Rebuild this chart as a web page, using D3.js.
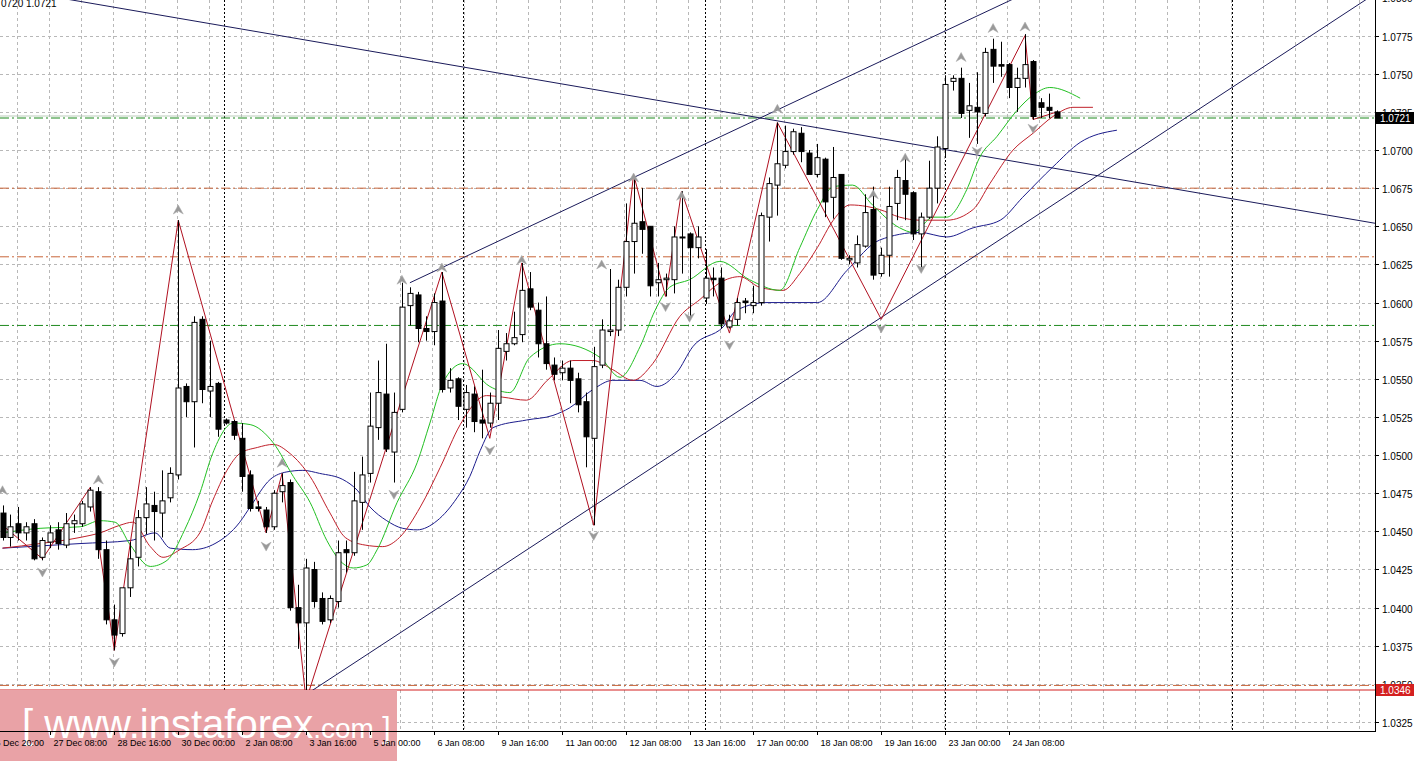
<!DOCTYPE html>
<html>
<head>
<meta charset="utf-8">
<script src="https://cdn.jsdelivr.net/npm/d3@7"></script>
<style>
  body { margin: 0; background: #fff; }
  text { font-family: "Liberation Sans", "DejaVu Sans", sans-serif; }
</style>
</head>
<body>
<svg id="chart" width="1419" height="761"></svg>
<script>
// candles: [open, high, low, close]
const candles = [
  [1.0462,1.0467,1.0444,1.0446],[1.0446,1.0461,1.0440,1.0453],[1.0455,1.0466,1.0444,1.0449],[1.0449,1.0456,1.0444,1.0453],
  [1.0455,1.0458,1.0431,1.0432],[1.0433,1.0446,1.0431,1.0444],[1.0443,1.0454,1.0439,1.0449],[1.0451,1.0456,1.0438,1.0442],
  [1.0441,1.0462,1.0439,1.0455],[1.0455,1.0461,1.0449,1.0457],[1.0455,1.0470,1.0453,1.0468],[1.0466,1.0479,1.0463,1.0477],
  [1.0476,1.0479,1.0432,1.0438],[1.0438,1.0444,1.0389,1.0392],[1.0392,1.0402,1.0372,1.0382],[1.0383,1.0411,1.0381,1.0413],
  [1.0413,1.0443,1.0407,1.0432],[1.0433,1.0464,1.0427,1.0459],[1.0459,1.0479,1.0448,1.0468],[1.0467,1.0476,1.0444,1.0463],
  [1.0462,1.0490,1.0446,1.0470],[1.0472,1.0492,1.0469,1.0488],[1.0487,1.0654,1.0484,1.0544],[1.0545,1.0547,1.0525,1.0535],
  [1.0535,1.0591,1.0505,1.0587],[1.0589,1.0591,1.0534,1.0543],[1.0542,1.0575,1.0525,1.0545],[1.0547,1.0548,1.0512,1.0517],
  [1.0523,1.0524,1.0520,1.0521],[1.0522,1.0523,1.0510,1.0513],[1.0511,1.0521,1.0476,1.0486],[1.0487,1.0490,1.0463,1.0465],
  [1.0466,1.0470,1.0463,1.0465],[1.0464,1.0466,1.0449,1.0453],[1.0453,1.0477,1.0451,1.0475],[1.0476,1.0488,1.0469,1.0480],
  [1.0482,1.0484,1.0398,1.0400],[1.0400,1.0415,1.0373,1.0390],[1.0390,1.0432,1.0342,1.0426],[1.0425,1.0430,1.0400,1.0404],
  [1.0406,1.0410,1.0389,1.0391],[1.0392,1.0408,1.0390,1.0406],[1.0404,1.0444,1.0400,1.0436],[1.0438,1.0444,1.0423,1.0436],
  [1.0436,1.0489,1.0434,1.0470],[1.0469,1.0499,1.0451,1.0487],[1.0488,1.0541,1.0482,1.0519],[1.0518,1.0562,1.0510,1.0541],
  [1.0540,1.0573,1.0502,1.0504],[1.0502,1.0541,1.0482,1.0528],[1.0530,1.0613,1.0528,1.0597],[1.0598,1.0610,1.0585,1.0606],
  [1.0605,1.0607,1.0574,1.0583],[1.0583,1.0591,1.0575,1.0581],[1.0581,1.0606,1.0572,1.0600],[1.0601,1.0620,1.0541,1.0543],
  [1.0544,1.0557,1.0541,1.0549],[1.0550,1.0551,1.0523,1.0532],[1.0530,1.0546,1.0518,1.0541],[1.0540,1.0545,1.0515,1.0522],
  [1.0523,1.0556,1.0511,1.0521],[1.0521,1.0541,1.0518,1.0534],[1.0534,1.0582,1.0523,1.0570],[1.0568,1.0580,1.0562,1.0573],
  [1.0573,1.0594,1.0572,1.0577],[1.0579,1.0626,1.0574,1.0608],[1.0609,1.0620,1.0595,1.0597],[1.0595,1.0600,1.0564,1.0573],
  [1.0573,1.0604,1.0556,1.0560],[1.0559,1.0564,1.0549,1.0553],[1.0554,1.0562,1.0549,1.0557],[1.0557,1.0562,1.0534,1.0549],
  [1.0550,1.0554,1.0528,1.0533],[1.0535,1.0541,1.0492,1.0512],[1.0511,1.0571,1.0454,1.0558],[1.0559,1.0589,1.0557,1.0582],
  [1.0581,1.0622,1.0578,1.0582],[1.0582,1.0615,1.0578,1.0610],[1.0610,1.0665,1.0604,1.0640],[1.0640,1.0683,1.0619,1.0652],
  [1.0653,1.0675,1.0632,1.0648],[1.0650,1.0650,1.0604,1.0611],[1.0613,1.0626,1.0604,1.0615],[1.0615,1.0619,1.0604,1.0616],
  [1.0615,1.0650,1.0606,1.0643],[1.0643,1.0673,1.0619,1.0643],[1.0645,1.0646,1.0589,1.0636],[1.0636,1.0650,1.0629,1.0643],
  [1.0603,1.0635,1.0599,1.0616],[1.0616,1.0623,1.0604,1.0615],[1.0616,1.0623,1.0583,1.0586],[1.0584,1.0592,1.0583,1.0588],
  [1.0589,1.0603,1.0585,1.0600],[1.0601,1.0603,1.0593,1.0600],[1.0598,1.0611,1.0593,1.0600],[1.0600,1.0659,1.0598,1.0657],
  [1.0656,1.0682,1.0640,1.0678],[1.0677,1.0718,1.0657,1.0691],[1.0690,1.0716,1.0688,1.0699],[1.0699,1.0714,1.0697,1.0712],
  [1.0711,1.0715,1.0692,1.0699],[1.0698,1.0700,1.0686,1.0684],[1.0684,1.0704,1.0682,1.0695],[1.0694,1.0695,1.0656,1.0666],
  [1.0669,1.0702,1.0655,1.0682],[1.0684,1.0684,1.0628,1.0629],[1.0628,1.0631,1.0625,1.0629],[1.0626,1.0644,1.0623,1.0638],
  [1.0637,1.0671,1.0636,1.0659],[1.0661,1.0676,1.0615,1.0618],[1.0619,1.0636,1.0617,1.0631],[1.0631,1.0676,1.0617,1.0663],
  [1.0665,1.0687,1.0654,1.0682],[1.0680,1.0695,1.0654,1.0671],[1.0672,1.0673,1.0641,1.0645],[1.0645,1.0659,1.0623,1.0656],
  [1.0656,1.0693,1.0655,1.0675],[1.0675,1.0709,1.0665,1.0702],[1.0701,1.0749,1.0695,1.0743],[1.0745,1.0749,1.0739,1.0747],
  [1.0747,1.0754,1.0721,1.0724],[1.0726,1.0744,1.0708,1.0729],[1.0728,1.0751,1.0704,1.0725],[1.0724,1.0767,1.0722,1.0764],
  [1.0766,1.0773,1.0744,1.0755],[1.0756,1.0771,1.0748,1.0755],[1.0756,1.0757,1.0734,1.0741],[1.0741,1.0754,1.0725,1.0747],
  [1.0747,1.0776,1.0741,1.0756],[1.0758,1.0759,1.0720,1.0722],[1.0731,1.0734,1.0721,1.0728],[1.0728,1.0737,1.0721,1.0726],
  [1.0725,1.0726,1.0721,1.0721]
];

// moving averages, read as [bar, price]
const maGreen = [[0,1.0449],[4.7,1.0452],[9.7,1.0453],[12.2,1.0457],[14.1,1.0456],[16,1.0441],[18.5,1.0427],[20.6,1.0431],
  [22.8,1.0451],[24.7,1.0475],[26.3,1.0501],[28.9,1.0521],[31,1.0520],[33.9,1.0508],[36.4,1.0486],[38.5,1.0469],[40.6,1.0444],
  [42.6,1.0429],[43.9,1.0426],[45.6,1.0428],[46.9,1.0438],[49.4,1.0469],[51.9,1.0495],[53.5,1.0521],[55.1,1.0547],[57.6,1.0560],
  [61,1.0545],[63.5,1.0541],[66,1.0564],[69.8,1.0573],[74.8,1.0564],[77.3,1.0551],[79.8,1.0571],[81.7,1.0595],[83.5,1.0610],
  [86,1.0615],[89.8,1.0627],[93.5,1.0615],[97.3,1.0608],[99.8,1.0636],[102,1.0661],[104,1.0676],[106.4,1.0677],[108.9,1.0664],
  [112.3,1.0649],[114,1.0646],[116.5,1.0656],[118.2,1.0656],[120.7,1.0674],[122.3,1.0695],[124.5,1.0709],[127,1.0726],
  [129,1.0736],[131.1,1.0741],[134.9,1.0734]];
const maRed = [[0,1.0439],[4.7,1.0442],[9.7,1.0446],[12.2,1.0449],[14.7,1.0454],[16.3,1.0456],[18.5,1.0440],[20.1,1.0433],
  [22.2,1.0438],[24.7,1.0449],[26.3,1.0470],[28.1,1.0490],[29.7,1.0501],[31.9,1.0505],[33.9,1.0507],[36,1.0501],[38.5,1.0486],
  [41,1.0462],[42.9,1.0446],[45.4,1.0441],[47.6,1.0440],[49.7,1.0446],[52.3,1.0466],[54.8,1.0492],[57.3,1.0520],[60.6,1.0539],
  [62.6,1.0538],[65.6,1.0536],[68.2,1.0549],[71.4,1.0562],[73.9,1.0562],[76.4,1.0556],[78.9,1.0549],[81.4,1.0560],[84.8,1.0591],
  [87.3,1.0602],[89.8,1.0613],[92.3,1.0617],[94.8,1.0610],[97.7,1.0608],[99.8,1.0619],[102,1.0636],[104,1.0654],[106.1,1.0664],
  [108.2,1.0663],[109.8,1.0661],[112.3,1.0656],[114.8,1.0654],[118.2,1.0654],[121.5,1.0661],[123.6,1.0678],[126.5,1.0700],
  [129,1.0711],[131.5,1.0722],[134,1.0728],[136.5,1.0728]];
const maBlue = [[0,1.0439],[9.7,1.0442],[16,1.0444],[19.1,1.0449],[21,1.0439],[23.8,1.0438],[26.6,1.0442],[29.7,1.0456],
  [31,1.0466],[33.5,1.0484],[35.6,1.0489],[37.6,1.0490],[39.7,1.0488],[42.6,1.0484],[44.4,1.0477],[46,1.0466],[48.1,1.0457],
  [50.1,1.0452],[51.9,1.0451],[54.4,1.0457],[56.9,1.0472],[58.5,1.0486],[59.8,1.0503],[61.4,1.0518],[65.6,1.0523],[68.9,1.0526],
  [71,1.0531],[73.9,1.0543],[76.4,1.0549],[79.8,1.0549],[81.9,1.0545],[84.4,1.0554],[86.4,1.0571],[90.2,1.0584],[91.9,1.0595],
  [95.7,1.0600],[102,1.0600],[105.7,1.0621],[109.8,1.0641],[114.8,1.0646],[118.2,1.0643],[121.5,1.0649],[124.9,1.0654],
  [127.7,1.0669],[131.5,1.0689],[134.9,1.0705],[139.5,1.0713]];

// zigzag pivots [bar, price]
const zigzag = [[0,1.0454],[5,1.0432],[11,1.0479],[14,1.0372],[22,1.0654],[33,1.0449],[35,1.0488],[38,1.0339],[55,1.0620],
  [61,1.0511],[65,1.0626],[74,1.0454],[79,1.0684],[83,1.0604],[85,1.0673],[91,1.0580],[97,1.0718],[110,1.0589],
  [128,1.0775],[129,1.0720],[132,1.0725]];

// fractal arrows [bar, price]
const upArrows = [[0,1.0476],[12,1.0483],[22,1.0660],[35,1.0494],[50,1.0614],[55,1.0622],[65,1.0627],[75,1.0624],
  [79,1.0681],[85,1.0669],[97,1.0726],[109,1.0670],[113,1.0694],[120,1.0760],[124,1.0779],[128,1.0780]];
const downArrows = [[5,1.0424],[14,1.0365],[33,1.0441],[38,1.0334],[49,1.0475],[61,1.0504],[74,1.0448],[83,1.0598],
  [86,1.0591],[91,1.0573],[110,1.0584],[115,1.0623],[122,1.0700],[129,1.0715]];

// trend lines [[bar, price], [bar, price], extend back?]
const trendLines = [
  [[9.1,1.0798],[171.8,1.0652], true],
  [[51,1.0613],[126.1,1.0798], false],
  [[37.7,1.0342],[170.5,1.0798], false]
];

const levelsOrange = [1.0675, 1.0630, 1.0349];
const levelsGreen = [1.0721, 1.0585];
const lastPrice = 1.0721;
const supportPrice = 1.0346;

const priceTicks = d3.range(1.0325, 1.08001, 0.0025);
const timeLabels = ["26 Dec 20:00","27 Dec 08:00","28 Dec 16:00","30 Dec 00:00","2 Jan 08:00","3 Jan 16:00","5 Jan 00:00",
  "6 Jan 08:00","9 Jan 16:00","11 Jan 00:00","12 Jan 08:00","13 Jan 16:00","17 Jan 00:00","18 Jan 08:00","19 Jan 16:00",
  "23 Jan 00:00","24 Jan 08:00"];
const weekSeparators = [27.7, 57.7, 87.9, 118, 153.9];

const svg = d3.select("#chart");
const plotW = 1375, plotH = 731;

const x = d3.scaleLinear().domain([0, 132]).range([2.5, 1057]);
const y = d3.scaleLinear().domain([1.0721, 1.0346]).range([118, 690]);

svg.append("defs").append("clipPath").attr("id", "clip")
  .append("rect").attr("width", plotW).attr("height", plotH);
const g = svg.append("g").attr("clip-path", "url(#clip)");

// grid
priceTicks.forEach(p => {
  g.append("line").attr("x1", 0).attr("x2", plotW).attr("y1", Math.round(y(p)) + 0.5).attr("y2", Math.round(y(p)) + 0.5)
    .attr("stroke", "#b8b8b8").attr("stroke-dasharray", "3,3");
});
d3.range(1.8, 175, 4).forEach(b => {
  g.append("line").attr("y1", 0).attr("y2", plotH).attr("x1", Math.round(x(b)) + 0.5).attr("x2", Math.round(x(b)) + 0.5)
    .attr("stroke", "#b8b8b8").attr("stroke-dasharray", "3,3");
});
weekSeparators.forEach(b => {
  g.append("line").attr("y1", 0).attr("y2", plotH).attr("x1", Math.round(x(b)) + 0.5).attr("x2", Math.round(x(b)) + 0.5)
    .attr("stroke", "#000").attr("stroke-dasharray", "2,2");
});

// watermark
svg.append("rect").attr("x", 0).attr("y", 690).attr("width", 397).attr("height", 71).attr("fill", "#e9a2a6");

// horizontal levels
levelsOrange.forEach(p => {
  g.append("line").attr("x1", 0).attr("x2", plotW).attr("y1", y(p)).attr("y2", y(p))
    .attr("stroke", "#c8653a").attr("stroke-dasharray", "9,3,2,3");
});
levelsGreen.forEach(p => {
  g.append("line").attr("x1", 0).attr("x2", plotW).attr("y1", y(p)).attr("y2", y(p))
    .attr("stroke", "#1f8a1f").attr("stroke-dasharray", "9,3,2,3");
});
g.append("line").attr("x1", 0).attr("x2", plotW).attr("y1", y(lastPrice) - 2).attr("y2", y(lastPrice) - 2)
  .attr("stroke", "#aac0aa").attr("stroke-width", 0.8);
g.append("line").attr("x1", 0).attr("x2", plotW).attr("y1", y(supportPrice)).attr("y2", y(supportPrice))
  .attr("stroke", "#d42020").attr("stroke-width", 1.2);

// trend lines, extended forward (and back for the falling one)
trendLines.forEach(([a, b, back]) => {
  const slope = (b[1] - a[1]) / (b[0] - a[0]);
  const b0 = back ? a[0] - 60 : a[0], b1 = a[0] + 200;
  g.append("line")
    .attr("x1", x(b0)).attr("y1", y(a[1] + slope * (b0 - a[0])))
    .attr("x2", x(b1)).attr("y2", y(a[1] + slope * (b1 - a[0])))
    .attr("stroke", "#1a1a5a").attr("stroke-width", 1);
});

// moving averages
const maLine = d3.line().x(d => x(d[0])).y(d => y(d[1])).curve(d3.curveMonotoneX);
[[maBlue, "#1c1c8c"], [maRed, "#c0202a"], [maGreen, "#22c022"]].forEach(([data, c]) => {
  g.append("path").datum(data).attr("d", maLine).attr("fill", "none").attr("stroke", c).attr("stroke-width", 1);
});

// zigzag
g.append("path").datum(zigzag)
  .attr("d", d3.line().x(d => x(d[0])).y(d => y(d[1])))
  .attr("fill", "none").attr("stroke", "#b01020").attr("stroke-width", 1);

// candles
candles.forEach((c, i) => {
  const [o, h, l, cl] = c;
  const cx = Math.round(x(i)) + 0.5;
  g.append("line").attr("x1", cx).attr("x2", cx).attr("y1", y(h)).attr("y2", y(l)).attr("stroke", "#000");
  const top = y(Math.max(o, cl)), bot = y(Math.min(o, cl));
  g.append("rect").attr("x", cx - 2.5).attr("y", top).attr("width", 5).attr("height", Math.max(1, bot - top))
    .attr("fill", cl >= o ? "#fff" : "#000").attr("stroke", "#000").attr("stroke-width", 1);
});

// fractal arrows
const arrowUp = "M0,-6 L5,3 L0,0 L-5,3 Z";
upArrows.forEach(d => {
  g.append("path").attr("d", arrowUp).attr("transform", `translate(${x(d[0])},${y(d[1])})`)
    .attr("fill", "#999").attr("stroke", "#aaa").attr("stroke-width", 0.5);
});
downArrows.forEach(d => {
  g.append("path").attr("d", arrowUp).attr("transform", `translate(${x(d[0])},${y(d[1])}) rotate(180)`)
    .attr("fill", "#999").attr("stroke", "#aaa").attr("stroke-width", 0.5);
});

// watermark text
const wm = svg.append("text").attr("x", 22).attr("y", 738).attr("fill", "#fff").attr("font-size", 40)
  .style("font-family", "Arial, 'Liberation Sans', sans-serif");
wm.append("tspan").text("[ ");
wm.append("tspan").text("www.instaforex");
wm.append("tspan").attr("font-size", 28).text(".com");
wm.append("tspan").attr("font-size", 30).text(" ]");

// axes frame
svg.append("line").attr("x1", plotW + 0.5).attr("x2", plotW + 0.5).attr("y1", 0).attr("y2", plotH).attr("stroke", "#000");
svg.append("line").attr("x1", 0).attr("x2", plotW + 1).attr("y1", plotH + 0.5).attr("y2", plotH + 0.5).attr("stroke", "#000");

// price axis
priceTicks.forEach(p => {
  const yy = Math.round(y(p)) + 0.5;
  svg.append("line").attr("x1", plotW).attr("x2", plotW + 4).attr("y1", yy).attr("y2", yy).attr("stroke", "#000");
  svg.append("text").attr("x", plotW + 7).attr("y", yy + 4).attr("font-size", 10).attr("fill", "#000")
    .text(p.toFixed(4));
});
[[lastPrice, "#000"], [supportPrice, "#d42020"]].forEach(([p, c]) => {
  const yy = y(p);
  svg.append("rect").attr("x", plotW + 1).attr("y", yy - 6).attr("width", 38).attr("height", 12).attr("fill", c);
  svg.append("text").attr("x", plotW + 5).attr("y", yy + 4).attr("font-size", 10).attr("fill", "#fff").text(p.toFixed(4));
});

// time axis
timeLabels.forEach((t, i) => {
  const b = -2 + 8 * i;
  const xx = Math.round(x(b)) + 0.5;
  svg.append("line").attr("x1", xx).attr("x2", xx).attr("y1", plotH).attr("y2", plotH + 4).attr("stroke", "#000");
  svg.append("text").attr("x", xx + 3).attr("y", plotH + 15).attr("font-size", 9).attr("fill", "#000").text(t);
});

// header
svg.append("text").attr("x", 1).attr("y", 7).attr("font-size", 10).attr("fill", "#000").text("0720 1.0721");
</script>
</body>
</html>
